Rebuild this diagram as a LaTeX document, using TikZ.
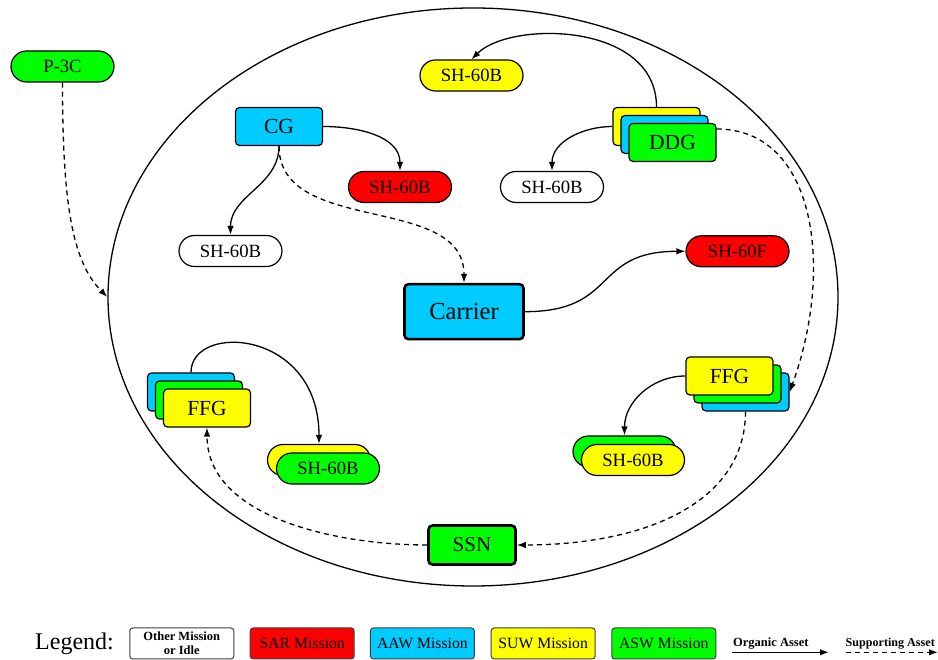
\documentclass[tikz,border=0pt]{standalone}
\usepackage{fontspec}
\setmainfont{Liberation Serif}
\usetikzlibrary{shapes.misc,shapes.geometric,arrows.meta}
\definecolor{cAAW}{RGB}{0,204,255}
\definecolor{cSAR}{RGB}{255,0,0}
\definecolor{cSUW}{RGB}{255,255,0}
\definecolor{cASW}{RGB}{0,255,0}
\tikzset{
 ship/.style={draw, rounded corners=4pt, line width=1.2pt, minimum width=87pt, minimum height=38pt, inner sep=0pt, font=\fontsize{21.5}{21.5}\selectfont},
 heli/.style={draw, rounded rectangle, line width=1.2pt, minimum width=103pt, minimum height=31pt, inner sep=0pt, font=\fontsize{18.7}{18.7}\selectfont},
 bigship/.style={ship, line width=2.6pt},
 org/.style={line width=1.3pt, -{Latex[length=9pt,width=6.5pt]}},
 sup/.style={org, dash pattern=on 5pt off 4pt},
 legbox/.style={draw=black!75, rounded corners=3pt, line width=1pt, minimum width=104pt, minimum height=31pt, inner sep=0pt, font=\fontsize{15.7}{15.7}\selectfont},
 legtxt/.style={anchor=base west, font=\bfseries\fontsize{12.5}{12.5}\selectfont},
}
\begin{document}
\begin{tikzpicture}[x=1pt,y=1pt]
\useasboundingbox (0,0) rectangle (938,660);
\node[draw, ellipse, line width=1.3pt, minimum width=730pt, minimum height=578pt, inner sep=0pt] (fleet) at (473,363) {};
\node[heli, fill=cASW] (p3c) at (62.5,593.5) {P-3C};
\node[heli, fill=cSUW] (suwT) at (471.5,584.5) {SH-60B};
\node[ship, fill=cAAW] (cg) at (279,533.5) {CG};
\node[ship, fill=cSUW] (ddgY) at (656.5,533.5) {};
\node[ship, fill=cAAW] (ddgC) at (664.5,525.5) {};
\node[ship, fill=cASW] (ddgG) at (672.5,517.5) {DDG};
\node[heli, fill=cSAR] (sarB) at (400,473) {SH-60B};
\node[heli, fill=white] (idleR) at (552,473) {SH-60B};
\node[heli, fill=white] (idleL) at (230.5,409) {SH-60B};
\node[heli, fill=cSAR] (sh60f) at (737.5,408.7) {SH-60F};
\node[bigship, fill=cAAW, minimum width=119pt, minimum height=55pt, font=\fontsize{24.5}{24.5}\selectfont] (carrier) at (464,348.3) {Carrier};
\node[ship, fill=cAAW] (ffgLC) at (191,268) {};
\node[ship, fill=cASW] (ffgLG) at (199,260) {};
\node[ship, fill=cSUW] (ffgLY) at (207,252) {FFG};
\node[heli, fill=cSUW] (shLY) at (319,200) {};
\node[heli, fill=cASW] (shLG) at (328,191.5) {SH-60B};
\node[ship, fill=cAAW] (ffgRC) at (745.5,268) {};
\node[ship, fill=cASW] (ffgRG) at (737.5,276) {};
\node[ship, fill=cSUW] (ffgRY) at (729.5,284) {FFG};
\node[heli, fill=cASW] (shRG) at (624.5,208.5) {};
\node[heli, fill=cSUW] (shRY) at (633,200) {SH-60B};
\node[bigship, fill=cASW, minimum width=87pt, minimum height=39pt, font=\fontsize{21}{21}\selectfont] (ssn) at (472,115) {SSN};
% connectors
\draw[org] (cg.east) to[out=0,in=90] (sarB.north);
\draw[org] (cg.south) to[out=-90,in=90] (idleL.north);
\draw[sup] (cg.south) to[out=-90,in=90] (carrier.north);
\draw[org] (ddgY.north) to[out=90,in=45,out distance=85pt,in distance=55pt] (suwT.north);
\draw[org] (ddgY.west) to[out=180,in=90] (idleR.north);
\draw[sup] (ddgG.17) to[out=0,in=70,out distance=100pt,in distance=130pt] (ffgRC.east);
\draw[org] (carrier.east) to[out=0,in=180,looseness=1.4] (sh60f.west);
\draw[org] (ffgLC.north) to[out=90,in=90,out distance=50pt,in distance=115pt] (shLY.north);
\draw[org] (ffgRY.west) to[out=180,in=90] (shRG.north);
\draw[sup] (ffgRC.south) to[out=-90,in=0,out distance=90pt,in distance=130pt] (ssn.east);
\draw[sup] (ssn.west) to[out=180,in=-90,out distance=90pt,in distance=90pt] (ffgLY.south);
\draw[sup] (p3c.south) to[out=-90,in=135,out distance=120pt,in distance=50pt] (fleet.west);
% legend
\node[anchor=base west, font=\fontsize{24}{24}\selectfont, inner sep=0pt] (legend) at (35,10) {Legend:};
\node[legbox, fill=white, font=\bfseries\fontsize{12.5}{14.3}\selectfont, align=center] (lgOther) at (181.8,16.5) {Other Mission\\or Idle};
\node[legbox, fill=cSAR] (lgSAR) at (302.2,16.5) {SAR Mission};
\node[legbox, fill=cAAW] (lgAAW) at (422.4,16.5) {AAW Mission};
\node[legbox, fill=cSUW] (lgSUW) at (543.2,16.5) {SUW Mission};
\node[legbox, fill=cASW] (lgASW) at (663.8,16.5) {ASW Mission};
\node[legtxt, inner sep=0pt] (lgOrg) at (733,13.3) {Organic Asset};
\coordinate (orgA) at (732,7.7);
\coordinate (orgB) at (829,7.7);
\draw[org, line width=1.5pt] (orgA) -- (orgB);
\node[legtxt, inner sep=0pt, font=\bfseries\fontsize{12.1}{12.1}\selectfont] (lgSup) at (845.5,13.3) {Supporting Asset};
\coordinate (supA) at (846,7.7);
\coordinate (supB) at (938,7.7);
\draw[sup, line width=1.5pt] (supA) -- (supB);
\end{tikzpicture}
\end{document}
